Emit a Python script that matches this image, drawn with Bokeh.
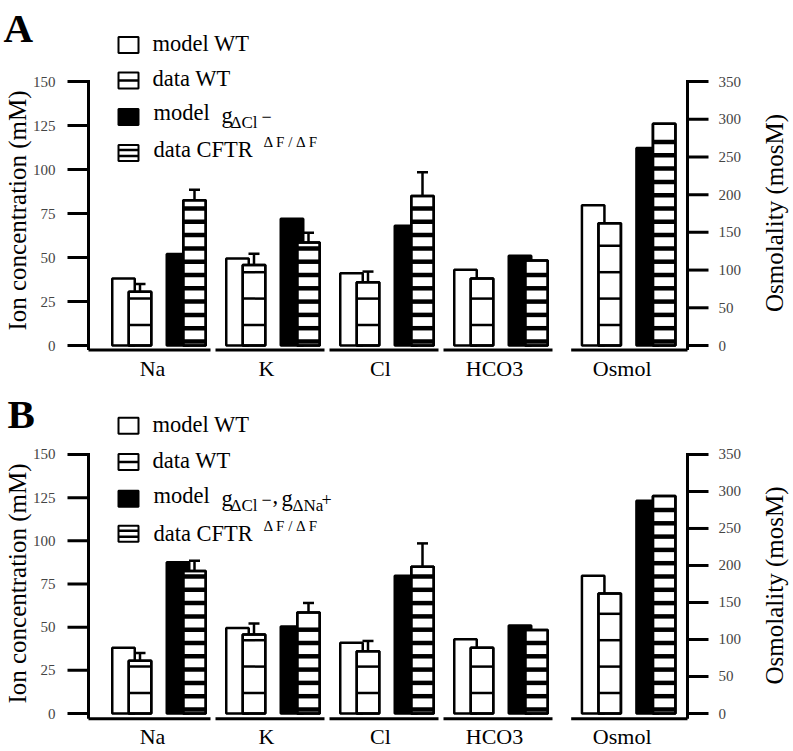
import math
from bokeh.plotting import figure
from bokeh.models import Range1d, ColumnDataSource, Whisker, TeeHead
from bokeh.layouts import column
from bokeh.core.properties import value
from bokeh.embed import file_html
from bokeh.resources import INLINE

# ---------------- data ----------------
categories = ["Na", "K", "Cl", "HCO3", "Osmol"]
ions = ["Na", "K", "Cl", "HCO3"]

model_wt_ion = [38.0, 49.5, 41.0, 43.0]
data_wt_ion = [30.5, 45.8, 36.0, 38.0]
data_wt_err = [4.5, 6.3, 6.0, 0.0]
data_cftr_ion = [82.5, 58.5, 85.0, 48.3]
data_cftr_err = [6.0, 5.5, 13.5, 0.0]
model_gcl_ion = [52.0, 72.0, 68.0, 51.0]        # panel A model
model_gclna_ion = [87.6, 50.4, 79.7, 51.0]      # panel B model

model_wt_osm = 186.0
data_wt_osm = 162.0
data_cftr_osm = 294.0
model_gcl_osm = 262.0
model_gclna_osm = 287.6

left_ticks = [0, 25, 50, 75, 100, 125, 150]
right_ticks = [0, 50, 100, 150, 200, 250, 300, 350]
left_title = "Ion concentration (mM)"
right_title = "Osmolality (mosM)"

# ---------------- layout constants (pixels) ----------------
FONT = "Liberation Serif"
W = 793
GROUP_PX = 114.0
BAR_W_PX = 22.5
OFFS_PX = [-35.0, -18.5, 19.5, 36.0]
group_pos = [0, 1, 2, 3, 4.12]
AX_L, AX_R, NA_C = 88.0, 687.0, 158.0
K_OSM = 350.0 / 150.0
MID = 0.3375   # distance (in em) from alphabetic baseline to "middle"


def make_panel(letter, model_ion, model_osm, model_parts, geo):
    top_page, height = geo["top"], geo["height"]
    zero_py, ppu = geo["zero"], geo["ppu"]

    def fx(px):
        return (px - NA_C) / GROUP_PX

    def fy(py):
        return (zero_py - py) / ppu

    def fyb(py_base, size):
        # y of a "middle"-anchored text whose alphabetic baseline is at py_base
        return fy(py_base - MID * size)

    ymin, ymax = fy(top_page + height), fy(top_page)
    p = figure(width=W, height=height, x_range=Range1d(fx(0), fx(W)),
               y_range=Range1d(ymin, ymax), output_backend="svg",
               toolbar_location=None, x_axis_location=None, y_axis_location=None,
               min_border_left=0, min_border_right=0,
               min_border_top=0, min_border_bottom=0)
    p.extra_y_ranges = {"osm": Range1d(ymin * K_OSM, ymax * K_OSM)}
    p.outline_line_color = None
    p.xgrid.visible = False
    p.ygrid.visible = False
    p.background_fill_color = "white"
    p.border_fill_color = "white"

    base_val = fy(geo["base"])
    txt = dict(text_font=value(FONT), text_color="black")

    # ---- axes (left: ion concentration, right: osmolality) ----
    p.segment(x0=[fx(AX_L)], y0=[base_val], x1=[fx(AX_L)], y1=[max(left_ticks)],
              line_color="black", line_width=3)
    p.segment(x0=[fx(AX_L - 21)] * len(left_ticks), y0=left_ticks,
              x1=[fx(AX_L + 1.5)] * len(left_ticks), y1=left_ticks,
              line_color="black", line_width=3)
    p.text(x=[fx(AX_L - 33)] * len(left_ticks), y=left_ticks,
           text=[str(t) for t in left_ticks], text_font=value(FONT),
           text_font_size="15px", text_color="#444444",
           text_align="right", text_baseline="middle")

    p.segment(x0=[fx(AX_R)], y0=[base_val * K_OSM], x1=[fx(AX_R)], y1=[max(right_ticks)],
              line_color="black", line_width=3, y_range_name="osm")
    p.segment(x0=[fx(AX_R - 1.5)] * len(right_ticks), y0=right_ticks,
              x1=[fx(AX_R + 21)] * len(right_ticks), y1=right_ticks,
              line_color="black", line_width=3, y_range_name="osm")
    p.text(x=[fx(AX_R + 31)] * len(right_ticks), y=right_ticks,
           text=[str(t) for t in right_ticks], text_font=value(FONT),
           text_font_size="15px", text_color="#444444",
           text_align="left", text_baseline="middle", y_range_name="osm")

    p.text(x=[fx(17)], y=[fy(geo["tl"])], text=[left_title], angle=math.pi / 2,
           text_font_size="25px", text_align="center", text_baseline="middle", **txt)
    p.text(x=[fx(774)], y=[fy(geo["tr"])], text=[right_title], angle=math.pi / 2,
           text_font_size="25px", text_align="center", text_baseline="middle", **txt)
    p.text(x=[fx(geo["lx"])], y=[fyb(geo["letter"], 41)], text=[letter],
           text_font_size="41px", text_font_style="bold", text_align="left",
           text_baseline="middle", **txt)

    # ---- bars ----
    bw = BAR_W_PX / GROUP_PX
    ion_pos = group_pos[:4]
    osm_pos = group_pos[4]

    def xs(k):
        return [g + OFFS_PX[k] / GROUP_PX for g in ion_pos]

    def xo(k):
        return [osm_pos + OFFS_PX[k] / GROUP_PX]

    def bars(xv, tops, fill, rng, stripes=None):
        kw = dict(y_range_name=rng) if rng else {}
        p.vbar(x=xv, top=tops, bottom=0, width=bw, fill_color=fill,
               line_color="black", line_width=2.5, **kw)
        if stripes:
            first, period, thick = stripes
            unit_px = ppu / (K_OSM if rng else 1.0)
            sx0, sx1, sy = [], [], []
            for x, t in zip(xv, tops):
                top_px = t * unit_px
                c = first
                while c + thick / 2 < top_px - 3:
                    sx0.append(x - bw / 2)
                    sx1.append(x + bw / 2)
                    sy.append(c / unit_px)
                    c += period
            p.segment(x0=sx0, y0=sy, x1=sx1, y1=sy, line_color="black",
                      line_width=thick, **kw)
            p.vbar(x=xv, top=tops, bottom=0, width=bw, fill_color=None,
                   line_color="black", line_width=2.5, **kw)

    WT_STRIPE = (20.5, 26.4, 2.5)
    CF_STRIPE = (4.0, 13.3, 4.5)
    bars(xs(0), model_wt_ion, "white", None)
    bars(xo(0), [model_wt_osm], "white", "osm")
    bars(xs(1), data_wt_ion, "white", None, WT_STRIPE)
    bars(xo(1), [data_wt_osm], "white", "osm", WT_STRIPE)
    bars(xs(2), model_ion, "black", None)
    bars(xo(2), [model_osm], "black", "osm")
    bars(xs(3), data_cftr_ion, "white", None, CF_STRIPE)
    bars(xo(3), [data_cftr_osm], "white", "osm", CF_STRIPE)

    # ---- error bars ----
    for k, vals, errs in ((1, data_wt_ion, data_wt_err), (3, data_cftr_ion, data_cftr_err)):
        ex, up, lo = [], [], []
        for x, v, e in zip(xs(k), vals, errs):
            if e > 0:
                ex.append(x)
                up.append(v + e)
                lo.append(v - e)
        src = ColumnDataSource(dict(x=ex, upper=up, lower=lo))
        p.add_layout(Whisker(source=src, base="x", upper="upper", lower="lower",
                             dimension="height", line_width=2.5, line_color="black",
                             upper_head=TeeHead(size=11, line_width=2.5, line_color="black"),
                             lower_head=TeeHead(size=17, line_width=2.5, line_color="black")))

    # ---- category baseline segments and labels ----
    centers = group_pos
    seg_s = [fx(AX_L)] + [c - 57 / GROUP_PX for c in centers[1:]]
    seg_e = [c + 52 / GROUP_PX for c in centers[:-1]] + [fx(AX_R)]
    p.segment(x0=seg_s, y0=[base_val] * 5, x1=seg_e, y1=[base_val] * 5,
              line_color="black", line_width=3)
    p.text(x=[c - 6 / GROUP_PX for c in centers], y=[fyb(geo["label"], 22)] * 5,
           text=categories, text_font_size="22px", text_align="center",
           text_baseline="middle", **txt)

    # ---- legend ----
    lc = geo["leg_c"]
    lb = geo["leg_b"]
    half = 8 / ppu
    L, R = fx(118), fx(138)
    fills = ["white", "white", "black", "white"]
    p.quad(left=[L] * 4, right=[R] * 4, top=[fy(c) + half for c in lc],
           bottom=[fy(c) - half for c in lc], fill_color=fills,
           line_color="black", line_width=2)
    sy = [fy(lc[1]), fy(lc[3]) + 3 / ppu, fy(lc[3]) - 3 / ppu]
    p.segment(x0=[L] * 3, x1=[R] * 3, y0=sy, y1=sy, line_color="black", line_width=2.5)

    rows = [
        [("model WT", 152, 0, 22.5)],
        [("data WT", 152, 0, 22.5)],
        model_parts,
        [("data CFTR", 153, 0, 22.5), ("\u0394 F / \u0394 F", 263, -10, 15)],
    ]
    for r, parts in enumerate(rows):
        for t, px, dy, size in parts:
            p.text(x=[fx(px)], y=[fyb(lb[r] + dy, size)], text=[t],
                   text_font_size=f"{size}px", text_align="left",
                   text_baseline="middle", **txt)
    return p


model_parts_A = [("model", 153, 0, 22.5), ("g", 221, 3, 22.5),
                 ("\u0394Cl", 230, 8, 17), ("\u2212", 261, 2.5, 18)]
model_parts_B = model_parts_A + [(",", 272, 0, 22.5), ("g", 281, 3, 22.5),
                                 ("\u0394Na", 292, 8, 17), ("+", 321, 2.5, 18)]

geoA = dict(top=0, height=382, zero=345.0, ppu=1.76, base=349.5, label=375,
            leg_c=[44.5, 80, 116.5, 152.5], leg_b=[50.7, 86, 120, 156.7],
            letter=41, lx=3, tl=210, tr=212.5)
geoB = dict(top=382, height=369, zero=713.0, ppu=1.727, base=718.3, label=743,
            leg_c=[425.3, 461.5, 498.3, 533.3], leg_b=[431.7, 467.3, 503, 540.7],
            letter=427, lx=7, tl=583, tr=585)

pA = make_panel("A", model_gcl_ion, model_gcl_osm, model_parts_A, geoA)
pB = make_panel("B", model_gclna_ion, model_gclna_osm, model_parts_B, geoB)

layout = column(pA, pB)
open("out.html", "w").write(file_html(layout, INLINE))
